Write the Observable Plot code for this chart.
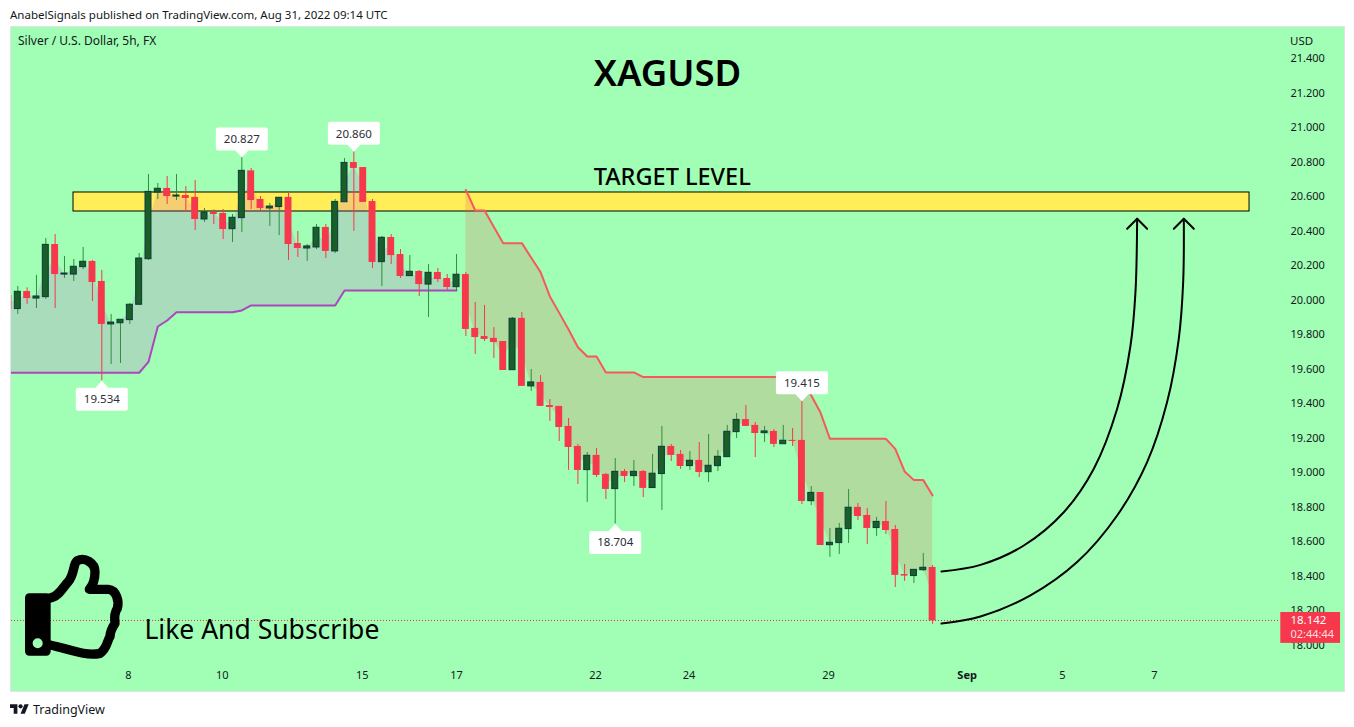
<!DOCTYPE html>
<html>
<head>
<meta charset="utf-8">
<script src="https://cdn.jsdelivr.net/npm/d3@7"></script>
<script src="https://cdn.jsdelivr.net/npm/@observablehq/plot@0.6"></script>
<style>
html,body{margin:0;padding:0;background:#fff;width:1354px;height:727px;overflow:hidden}
body{font-family:"Noto Sans",sans-serif;color:#131722;position:relative}
#top{position:absolute;left:10px;top:7px;font-size:11.5px;line-height:16px;white-space:nowrap}
#pane{position:absolute;left:10px;top:26px;width:1333px;height:664px;background:#a0ffb4;border:1px solid #e0e3eb}
#chart{position:absolute;left:0;top:27px}
#sub{position:absolute;left:18px;top:33px;font-size:12px;line-height:16px}
#usd{position:absolute;left:1290px;top:33px;font-size:11.5px;line-height:16px}
#foot{position:absolute;left:10px;top:700px;height:18px;display:flex;align-items:center;font-size:12.5px}
#foot svg{margin-right:4px}
</style>
</head>
<body>
<div id="top">AnabelSignals published on TradingView.com, Aug 31, 2022 09:14 UTC</div>
<div id="pane"></div>
<div id="chart"></div>
<div id="sub">Silver / U.S. Dollar, 5h, FX</div>
<div id="usd">USD</div>
<div id="foot"><svg width="19" height="15" viewBox="0 0 36 28"><path fill="#131722" d="M14 22H7V11H0V4h14v18zM28 22h-8l7.5-18h8L28 22z"/><circle fill="#131722" cx="20" cy="8" r="4"/></svg>TradingView</div>
<script>
// Candle position: first candle is clipped at the left edge of the pane
const firstIndex = -1;
const open = [20.028,19.949,20.051,20.010,20.018,20.323,20.149,20.149,20.192,20.225,
 20.109,19.860,19.867,19.885,19.974,20.238,20.624,20.648,20.601,20.607,
 20.596,20.468,20.509,20.503,20.412,20.476,20.750,20.584,20.532,20.540,
 20.596,20.329,20.300,20.306,20.422,20.283,20.568,20.798,20.769,20.572,
 20.221,20.364,20.265,20.140,20.167,20.091,20.161,20.126,20.076,20.149,
 19.837,19.790,19.779,19.761,19.595,19.895,19.501,19.524,19.390,19.385,
 19.269,19.153,19.016,19.101,18.991,18.906,19.008,18.981,19.008,18.912,
 18.993,19.153,19.107,19.039,19.072,19.004,19.039,19.091,19.236,19.309,
 19.275,19.230,19.240,19.166,19.188,19.188,18.836,18.886,18.581,18.593,
 18.674,18.800,18.753,18.680,18.718,18.672,18.411,18.402,18.436,18.452];
const close = [19.947,20.049,20.010,20.022,20.321,20.149,20.155,20.194,20.223,20.103,
 19.860,19.871,19.887,19.974,20.242,20.628,20.646,20.601,20.607,20.590,
 20.468,20.509,20.497,20.410,20.478,20.750,20.578,20.532,20.543,20.594,
 20.323,20.300,20.312,20.420,20.283,20.570,20.796,20.764,20.567,20.219,
 20.362,20.259,20.138,20.165,20.091,20.159,20.120,20.074,20.148,19.831,
 19.784,19.773,19.755,19.593,19.893,19.501,19.524,19.385,19.379,19.263,
 19.147,19.014,19.099,18.985,18.904,19.006,18.979,19.006,18.910,18.995,
 19.151,19.101,19.037,19.070,19.002,19.041,19.093,19.238,19.307,19.269,
 19.228,19.240,19.165,19.186,19.182,18.834,18.884,18.579,18.595,18.676,
 18.798,18.747,18.678,18.716,18.666,18.406,18.402,18.438,18.450,18.142];
const high = [20.028,20.080,20.072,20.144,20.358,20.381,20.254,20.236,20.306,20.231,
 20.173,19.918,19.887,19.981,20.271,20.729,20.677,20.717,20.729,20.659,
 20.694,20.532,20.524,20.526,20.497,20.827,20.764,20.601,20.561,20.594,
 20.624,20.399,20.323,20.439,20.439,20.584,20.821,20.860,20.769,20.584,
 20.370,20.381,20.294,20.259,20.173,20.207,20.184,20.149,20.265,20.161,
 19.987,19.970,19.842,19.761,19.900,19.929,19.599,19.564,19.425,19.385,
 19.315,19.165,19.118,19.141,18.997,19.083,19.020,19.072,19.014,19.107,
 19.269,19.165,19.130,19.124,19.176,19.222,19.130,19.275,19.344,19.390,
 19.292,19.269,19.251,19.275,19.257,19.415,18.921,18.886,18.678,18.707,
 18.904,18.823,18.794,18.742,18.834,18.695,18.469,18.438,18.533,18.463];
const low = [19.947,19.918,19.976,19.952,20.005,19.952,20.126,20.109,20.178,19.993,
 19.534,19.628,19.634,19.860,19.974,20.231,20.584,20.555,20.578,20.509,
 20.404,20.451,20.439,20.352,20.335,20.393,20.526,20.520,20.428,20.375,
 20.231,20.248,20.225,20.294,20.242,20.271,20.568,20.399,20.567,20.184,
 20.080,20.207,20.126,20.140,20.022,19.900,20.103,20.057,20.051,19.790,
 19.686,19.761,19.663,19.593,19.595,19.501,19.472,19.385,19.298,19.182,
 19.014,18.933,18.828,18.973,18.846,18.704,18.944,18.921,18.857,18.912,
 18.782,19.066,19.020,19.014,18.973,18.944,19.008,19.091,19.199,19.269,
 19.089,19.176,19.147,19.166,19.153,18.817,18.811,18.579,18.510,18.527,
 18.591,18.724,18.585,18.632,18.643,18.336,18.371,18.359,18.429,18.122];

// Supertrend bands
const lowerBand = [19.58,19.58,19.58,19.58,19.58,19.58,19.58,19.58,19.58,19.58,19.58,19.58,19.58,19.58,19.58,
 19.643,19.848,19.883,19.931,19.931,19.931,19.931,19.931,19.931,19.931,19.941,
 19.970,19.970,19.970,19.970,19.970,19.970,19.970,19.970,19.970,19.970,
 20.057,20.057,20.057,20.057,20.057,20.057,20.057,20.057,20.057,20.057,20.057,20.057,20.057];
const upperBand = [20.640,20.520,20.520,20.424,20.331,20.331,20.331,20.246,20.163,20.022,19.927,19.831,19.728,
 19.674,19.674,19.582,19.582,19.582,19.582,19.555,
 19.555,19.555,19.555,19.555,19.555,19.555,19.555,19.555,19.555,19.555,19.555,19.555,19.555,19.555,19.555,19.555,19.555,
 19.448,19.348,19.197,19.197,19.197,19.197,19.197,19.197,19.197,19.139,19.008,18.958,18.958,18.869];

// Axes
const yTicks = [18,18.2,18.4,18.6,18.8,19,19.2,19.4,19.6,19.8,20,20.2,20.4,20.6,20.8,21,21.2,21.4];
const xTickPos = [11.85,21.9,36.9,47,61.9,71.9,86.85,111.9,121.75];
const xTickText = ["8","10","15","17","22","24","29","5","7"];
const monthTickPos = [101.7];
const monthTickText = ["Sep"];

// Price callouts on the extremes
const calloutIndex = [9,24,36,64,84];
const calloutPrice = [19.534,20.827,20.860,18.704,19.415];
const calloutAnchor = ["top","bottom","bottom","top","bottom"];

// Drawing tools on the chart
const targetIndex = [5.967,131.95];
const targetPrice = [20.5144,20.6245];
const arrowAIndex = [98.95,103.13,107.77,112.05,115.27,117.77,119.2,119.73,119.91];
const arrowAPrice = [18.429,18.467,18.579,18.772,19.024,19.371,19.738,20.047,20.472];
const arrowBIndex = [98.95,103.13,108.48,113.48,117.77,120.98,123.12,124.37,124.84,124.91];
const arrowBPrice = [18.127,18.168,18.290,18.483,18.753,19.062,19.410,19.777,20.105,20.472];
const headAIndex = [118.84,119.91,120.98];
const headBIndex = [123.84,124.91,125.98];
const headPrice = [20.414,20.472,20.414];
const lastPrice = 18.142;
const countdown = "02:44:44";

const UP_FILL = "#1a5e28", UP_EDGE = "#0c3a3a", UP_WICK = "#2f8f3c", DOWN = "#f7374b";
const PANE = "#a0ffb4";
const FONT = "Noto Sans";
const INK = "#2a2e39";

const candles = open.map((o, k) => ({i: k + firstIndex, open: o, close: close[k], high: high[k], low: low[k], up: close[k] >= o, mid: (o + close[k]) / 2}));
const lowerRows = lowerBand.map((v, k) => ({i: candles[k].i, band: v, mid: candles[k].mid}));
const upperRows = upperBand.map((v, k) => ({i: candles[k + lowerBand.length].i, band: v, mid: candles[k + lowerBand.length].mid}));
const ups = candles.filter(d => d.up), downs = candles.filter(d => !d.up);
const rows = (xs, ys) => xs.map((x, k) => ({x, y: ys[k]}));
const callouts = calloutIndex.map((i, k) => ({i, price: calloutPrice[k], anchor: calloutAnchor[k], label: calloutPrice[k].toFixed(3)}));
const calloutsAbove = callouts.filter(d => d.anchor === "bottom");
const calloutsBelow = callouts.filter(d => d.anchor === "top");

// Callout shape: a small rounded box with a pointer on the priced point
const bubble = (sign) => ({draw(c) {
  const w = 26, n = 7, f = 30, p = 6.5, r = 2;
  c.moveTo(0, 0);
  c.lineTo(p, sign * n);
  c.lineTo(w - r, sign * n);
  c.arcTo(w, sign * n, w, sign * (n + r), r);
  c.lineTo(w, sign * (f - r));
  c.arcTo(w, sign * f, w - r, sign * f, r);
  c.lineTo(-w + r, sign * f);
  c.arcTo(-w, sign * f, -w, sign * (f - r), r);
  c.lineTo(-w, sign * (n + r));
  c.arcTo(-w, sign * n, -w + r, sign * n, r);
  c.lineTo(-p, sign * n);
  c.closePath();
}});

// Thumbs-up icon (decoration, not data)
function thumb() {
  const g = d3.create("svg:g").attr("transform", "translate(0,513) scale(0.33333)");
  g.append("rect").attr("x",75).attr("y",160).attr("width",77).attr("height",187).attr("rx",13).attr("fill","#000");
  g.append("circle").attr("cx",113).attr("cy",310).attr("r",15).attr("fill",PANE);
  g.append("path").attr("fill","none").attr("stroke","#000").attr("stroke-width",28).attr("stroke-linejoin","round").attr("stroke-linecap","round")
   .attr("d","M150 174 C175 172 190 140 205 125 C225 100 218 72 232 62 C255 50 285 70 285 95 C285 125 275 140 268 148 L325 148 C350 150 358 185 352 205 C345 215 342 225 345 250 C335 265 330 275 330 290 C322 300 322 325 300 340 C255 350 200 325 150 315");
  return g.node();
}

const chart = Plot.plot({
  width: 1354, height: 664,
  marginLeft: 11, marginRight: 75, marginTop: 0, marginBottom: 30,
  style: {background: "transparent", fontFamily: FONT, fontSize: "11px", color: "#131722"},
  x: {domain: [-0.675, 135.16], axis: null},
  y: {domain: [17.907, 21.5805], axis: null},
  marks: [
    Plot.axisY({anchor: "right", ticks: yTicks, tickFormat: d3.format(".3f"), tickSize: 0, tickPadding: 11, label: null, textAnchor: "start", fontSize: 11}),
    Plot.axisX({ticks: xTickPos, tickFormat: (d) => xTickText[xTickPos.indexOf(d)], tickSize: 0, tickPadding: 10, label: null, fontSize: 11}),
    Plot.axisX({ticks: monthTickPos, tickFormat: (d) => monthTickText[monthTickPos.indexOf(d)], tickSize: 0, tickPadding: 10, label: null, fontSize: 11, fontWeight: "bold"}),
    // target zone
    Plot.rect([{}], {x1: () => targetIndex[0], x2: () => targetIndex[1], y1: () => targetPrice[0], y2: () => targetPrice[1], fill: "#ffee58", stroke: "#000", strokeWidth: 1}),
    // supertrend fills
    Plot.areaY(lowerRows, {x: "i", y1: "band", y2: "mid", fill: "rgb(200,80,215)", fillOpacity: 0.2, clip: true}),
    Plot.areaY(upperRows, {x: "i", y1: "band", y2: "mid", fill: "#f05050", fillOpacity: 0.2}),
    Plot.line(lowerRows, {x: "i", y: "band", stroke: "#ab47bc", strokeWidth: 2, clip: true}),
    Plot.line(upperRows, {x: "i", y: "band", stroke: "#f55a5a", strokeWidth: 2}),
    // candles
    Plot.ruleX(ups, {x: "i", y1: "low", y2: "high", stroke: UP_WICK, strokeWidth: 1, clip: true}),
    Plot.ruleX(downs, {x: "i", y1: "low", y2: "high", stroke: DOWN, strokeWidth: 1, clip: true}),
    Plot.rect(ups, {x1: d => d.i - 0.32, x2: d => d.i + 0.32, y1: "open", y2: "close", fill: UP_FILL, stroke: UP_EDGE, strokeWidth: 1, clip: true}),
    Plot.rect(downs, {x1: d => d.i - 0.37, x2: d => d.i + 0.37, y1: "open", y2: "close", fill: DOWN, clip: true}),
    // last price
    Plot.ruleY([lastPrice], {stroke: "#f0283c", strokeWidth: 1, strokeDasharray: "1 2", dy: -0.5}),
    // arrows
    Plot.line(rows(arrowAIndex, arrowAPrice), {x: "x", y: "y", curve: "catmull-rom", stroke: "#000", strokeWidth: 2}),
    Plot.line(rows(arrowBIndex, arrowBPrice), {x: "x", y: "y", curve: "catmull-rom", stroke: "#000", strokeWidth: 2}),
    Plot.line(rows(headAIndex, headPrice), {x: "x", y: "y", stroke: "#000", strokeWidth: 2}),
    Plot.line(rows(headBIndex, headPrice), {x: "x", y: "y", stroke: "#000", strokeWidth: 2}),
    // callouts
    Plot.dot(calloutsAbove, {x: "i", y: "price", symbol: bubble(-1), fill: "#fff", stroke: "none"}),
    Plot.dot(calloutsBelow, {x: "i", y: "price", symbol: bubble(1), fill: "#fff", stroke: "none"}),
    Plot.text(calloutsAbove, {x: "i", y: "price", text: "label", dy: -18, fontSize: 11.5, fill: INK, fontFamily: FONT}),
    Plot.text(calloutsBelow, {x: "i", y: "price", text: "label", dy: 18.5, fontSize: 11.5, fill: INK, fontFamily: FONT}),
    // annotations
    Plot.text(["XAGUSD"], {x: () => 69.6, y: () => 21.308, text: d => d, fontSize: 36.5, fontWeight: 600, fill: "#000", fontFamily: FONT}),
    Plot.text(["TARGET LEVEL"], {x: () => 70.1, y: () => 20.711, text: d => d, fontSize: 23.5, fontWeight: 500, fill: "#000", fontFamily: FONT}),
    Plot.text(["Like And Subscribe"], {x: () => 13.57, y: () => 18.087, text: d => d, fontSize: 26.5, fill: "#000", textAnchor: "start", fontFamily: FONT}),
    thumb,
    // price label
    Plot.rect([{}], {x1: () => 135.3, x2: () => 141.7, y1: () => 18.012, y2: () => 18.191, fill: DOWN}),
    Plot.text([lastPrice.toFixed(3)], {x: () => 136.33, y: () => 18.145, text: d => d, fill: "#fff", fontSize: 11.5, textAnchor: "start", fontFamily: FONT}),
    Plot.text([countdown], {x: () => 136.33, y: () => 18.064, text: d => d, fill: "#fff", fillOpacity: 0.85, fontSize: 11, textAnchor: "start", fontFamily: FONT})
  ]
});
document.getElementById("chart").appendChild(chart);
</script>
</body>
</html>
